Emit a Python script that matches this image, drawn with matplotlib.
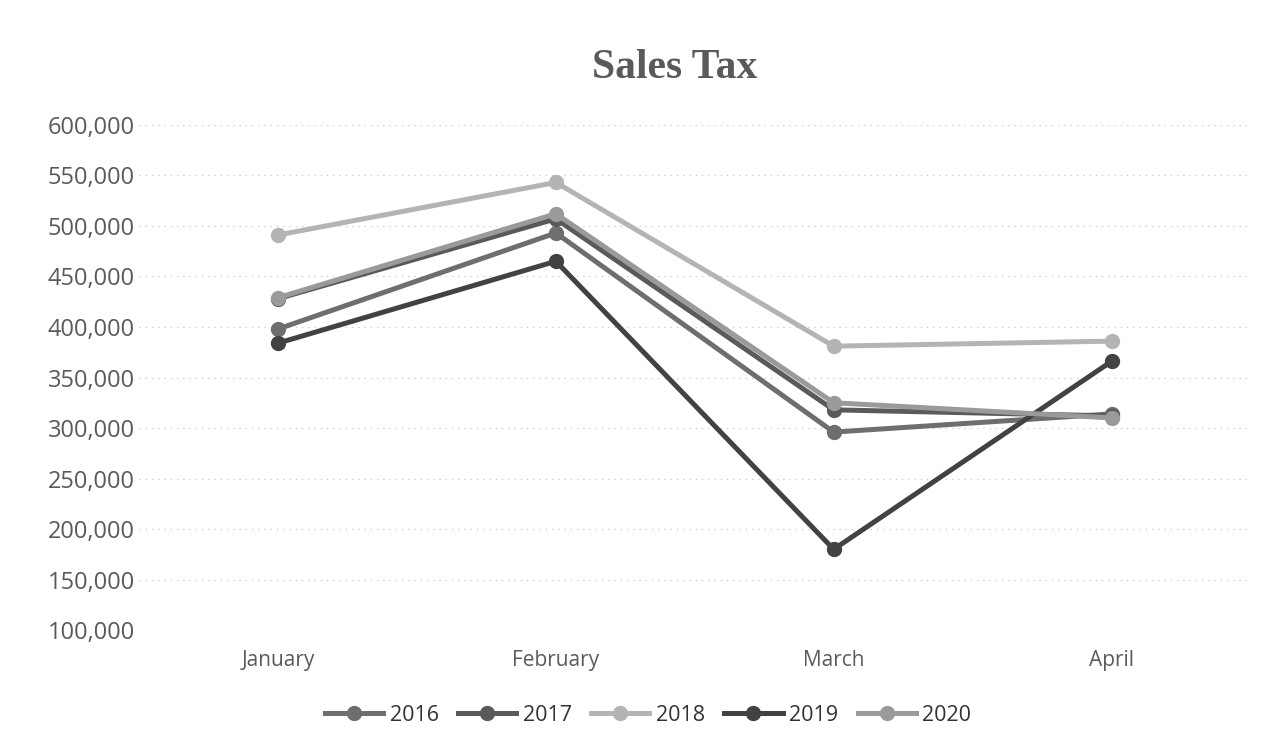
import matplotlib
matplotlib.use('Agg')
import matplotlib.pyplot as plt
from matplotlib.ticker import FuncFormatter

months = ['January', 'February', 'March', 'April']
years = ['2016', '2017', '2018', '2019', '2020']

# sales tax per month (dollars)
s2016 = [398000, 493000, 296000, 314000]
s2017 = [428000, 507000, 318000, 312000]
s2018 = [491000, 543000, 381000, 386000]
s2019 = [384000, 465000, 180000, 366000]
s2020 = [429000, 512000, 325000, 310000]

series = [s2016, s2017, s2018, s2019, s2020]
colors = ['#6e6e6e', '#5a5a5a', '#b4b4b4', '#424242', '#9a9a9a']

plt.rcParams['font.family'] = ['Open Sans', 'DejaVu Sans']

fig = plt.figure(figsize=(12.76, 7.52), dpi=100)
ax = fig.add_axes([0.109, 0.162, 0.871, 0.672])

x = range(len(months))
for vals, col, yr in zip(series, colors, years):
    ax.plot(x, vals, color=col, lw=3.6, marker='o', markersize=10,
            markerfacecolor=col, markeredgecolor=col, label=yr, zorder=3)

ax.set_xlim(-0.5, 3.5)
ax.set_ylim(100000, 600000)
ax.set_yticks(range(100000, 600001, 50000))
ax.yaxis.set_major_formatter(FuncFormatter(lambda v, p: '{:,.0f}'.format(v)))
ax.set_xticks(list(x))
ax.set_xticklabels(months)

ax.grid(axis='y', color='#c8c8c8', lw=0.9, ls=(0, (1, 4)))
ax.set_axisbelow(True)
for sp in ax.spines.values():
    sp.set_visible(False)
ax.tick_params(axis='both', length=0, colors='#5a5a5a')
ax.tick_params(axis='x', pad=14, labelsize=15)
ax.tick_params(axis='y', pad=3, labelsize=17)

fig.text(0.529, 0.91, 'Sales Tax', ha='center', va='center',
         family='Liberation Serif', fontweight='bold', fontsize=30, color='#5a5a5a')

fig.legend(loc='center', bbox_to_anchor=(0.508, 0.049), ncol=5, frameon=False,
           fontsize=15.5, handlelength=2.7, columnspacing=0.9, handletextpad=0.3,
           labelcolor='#333333')

fig.savefig('out.png', dpi=100)
